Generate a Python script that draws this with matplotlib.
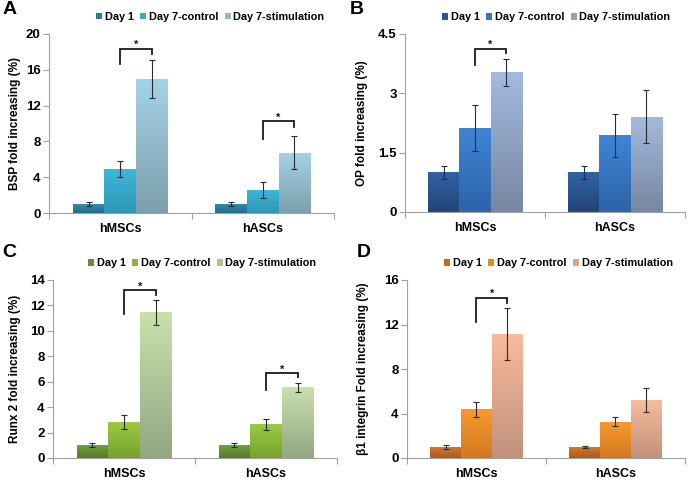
import numpy as np
import matplotlib
matplotlib.use("Agg")
import matplotlib.pyplot as plt
from matplotlib.patches import Patch
from matplotlib.colors import to_rgb

plt.rcParams['font.family'] = ['Liberation Sans', 'DejaVu Sans']

# ---------------- data ----------------
categories = ["hMSCs", "hASCs"]
series = ["Day 1", "Day 7-control", "Day 7-stimulation"]

# Panel A: BSP
bsp_mean = [[1.0, 4.9, 15.0], [1.0, 2.6, 6.75]]
bsp_err = [[0.2, 0.87, 2.15], [0.2, 0.89, 1.87]]
# Panel B: OP
op_mean = [[1.0, 2.13, 3.53], [1.0, 1.94, 2.41]]
op_err = [[0.16, 0.58, 0.35], [0.16, 0.54, 0.67]]
# Panel C: Runx 2
runx_mean = [[1.0, 2.83, 11.45], [1.0, 2.65, 5.56]]
runx_err = [[0.16, 0.58, 0.97], [0.15, 0.42, 0.34]]
# Panel D: beta1 integrin
itg_mean = [[1.0, 4.36, 11.15], [1.0, 3.28, 5.2]]
itg_err = [[0.19, 0.67, 2.36], [0.1, 0.4, 1.09]]

# significance brackets: (category index, top, left-leg bottom, right-leg bottom)
bsp_sig = [(0, 18.36, 16.6, 17.8), (1, 10.26, 8.3, 9.6)]
op_sig = [(0, 4.13, 3.71, 4.01)]
runx_sig = [(0, 13.2, 11.3, 12.8), (1, 6.67, 5.35, 6.35)]
itg_sig = [(0, 14.4, 12.2, 13.9)]

bsp_ticks = [0, 4, 8, 12, 16, 20]
op_ticks = [0, 1.5, 3, 4.5]
op_ticklabels = ["0", "1.5", "3", "4.5"]
runx_ticks = [0, 2, 4, 6, 8, 10, 12, 14]
itg_ticks = [0, 4, 8, 12, 16]

# ---------------- styling ----------------
W, H = 689, 480
fig = plt.figure(figsize=(W / 100, H / 100), dpi=100)

def px_axes(l, r, t, b):
    return fig.add_axes([l / W, (H - b) / H, (r - l) / W, (b - t) / H])

# (top colour, bottom colour) per series
pal_A = [("#2f8dab", "#236d84"), ("#3db7da", "#2e97b6"), ("#a3d3e6", "#7d9fad")]
pal_B = [("#2e63a6", "#224677"), ("#3f84d6", "#2d64a9"), ("#a3badf", "#7887a2")]
pal_C = [("#72a03c", "#557a2b"), ("#9acb40", "#78a12f"), ("#c9e0ac", "#93a783")]
pal_D = [("#d67b2a", "#a85b1b"), ("#f89a30", "#d27921"), ("#f8bb9c", "#c2917c")]

def mix(c1, c2):
    a, b = np.array(to_rgb(c1)), np.array(to_rgb(c2))
    return tuple((a + b) / 2)

def gradient_fill(ax, rects, top, bottom):
    t, b = np.array(to_rgb(top)), np.array(to_rgb(bottom))
    n = 64
    f = np.linspace(0, 1, n)[:, None]
    img = (t[None, :] * (1 - f) + b[None, :] * f)[:, None, :]
    for r in rects:
        x, y, w, h = r.get_x(), r.get_y(), r.get_width(), r.get_height()
        im = ax.imshow(img, extent=[x, x + w, y, y + h], aspect='auto',
                       origin='upper', zorder=2, interpolation='bilinear')
        im.set_clip_path(r)

def draw_panel(ax, means, errs, pal, ticks, ticklabels, ylabel, sigs,
               leg_x, letter, letter_xy, ylab_x):
    means = np.array(means)
    errs = np.array(errs)
    x = np.arange(len(categories))
    bw = 1 / 4.5
    for i in range(3):
        xs = x + (i - 1) * bw
        bars = ax.bar(xs, means[:, i], width=bw, color='none',
                      edgecolor='none', zorder=1)
        gradient_fill(ax, bars, pal[i][0], pal[i][1])
        ax.errorbar(xs, means[:, i], yerr=errs[:, i], fmt='none',
                    ecolor='#2a2a2a', elinewidth=0.8, capsize=2.2,
                    capthick=0.8, zorder=4)
    for ci, top, lb, rb in sigs:
        xl, xr = x[ci], x[ci] + bw
        ax.plot([xl, xl, xr, xr], [lb, top, top, rb], color='#1a1a1a',
                lw=1.3, zorder=5, solid_joinstyle='miter')
        ax.annotate('*', ((xl + xr) / 2, top), xytext=(0, -1),
                    textcoords='offset points', ha='center', va='bottom',
                    fontsize=8, fontweight='bold', color='#1a1a1a')
    ax.set_xlim(-0.5, 1.5)
    ax.set_ylim(0, ticks[-1])
    ax.set_yticks(ticks)
    ax.set_yticklabels(ticklabels if ticklabels else [str(t) for t in ticks])
    ax.set_xticks(x)
    ax.set_xticklabels(categories)
    ax.set_xticks([-0.5, 0.5, 1.5], minor=True)
    ax.tick_params(axis='x', which='major', length=0, pad=7,
                   labelsize=9)
    ax.tick_params(axis='x', which='minor', length=4, color='#a0a0a0',
                   width=0.8)
    ax.tick_params(axis='y', length=4, color='#a0a0a0', width=0.8,
                   labelsize=9.5, pad=2)
    for lab in ax.get_xticklabels() + ax.get_yticklabels():
        lab.set_fontweight('bold')
    for s in ['top', 'right']:
        ax.spines[s].set_visible(False)
    for s in ['left', 'bottom']:
        ax.spines[s].set_color('#a0a0a0')
        ax.spines[s].set_linewidth(0.8)
    ax.set_ylabel(ylabel, fontsize=8.5, fontweight='bold')
    ax.yaxis.set_label_coords(ylab_x, 0.5)
    ax.yaxis.label.set_verticalalignment('center')
    handles = [Patch(facecolor=mix(*p), edgecolor='none') for p in pal]
    ax.legend(handles, series, loc='center', bbox_to_anchor=(leg_x, 1.095),
              ncol=3, frameon=False, handlelength=0.55, handleheight=0.55,
              handletextpad=0.25, columnspacing=0.6,
              prop={'size': 7.8, 'weight': 'bold'}, borderaxespad=0,
              borderpad=0)
    fig.text(letter_xy[0] / W, 1 - letter_xy[1] / H, letter, fontsize=14,
             fontweight='bold', ha='left', va='top')

axA = px_axes(49, 334, 34, 213)
axB = px_axes(405, 685, 34, 212)
axC = px_axes(53, 337, 280, 458)
axD = px_axes(407, 685, 280, 458)

draw_panel(axA, bsp_mean, bsp_err, pal_A, bsp_ticks, None,
           "BSP fold increasing (%)", bsp_sig, 0.565, "A", (3, 1),
           (15 - 49) / 285)
draw_panel(axB, op_mean, op_err, pal_B, op_ticks, op_ticklabels,
           "OP fold increasing (%)", op_sig, 0.54, "B", (350, 1),
           (362 - 405) / 280)
draw_panel(axC, runx_mean, runx_err, pal_C, runx_ticks, None,
           "Runx 2 fold increasing (%)", runx_sig, 0.525, "C", (2, 244),
           (15 - 53) / 284)
draw_panel(axD, itg_mean, itg_err, pal_D, itg_ticks, None,
           "β1 integrin Fold increasing (%)", itg_sig, 0.545, "D", (357, 244),
           (363 - 407) / 278)

fig.savefig("out.png", dpi=100)
